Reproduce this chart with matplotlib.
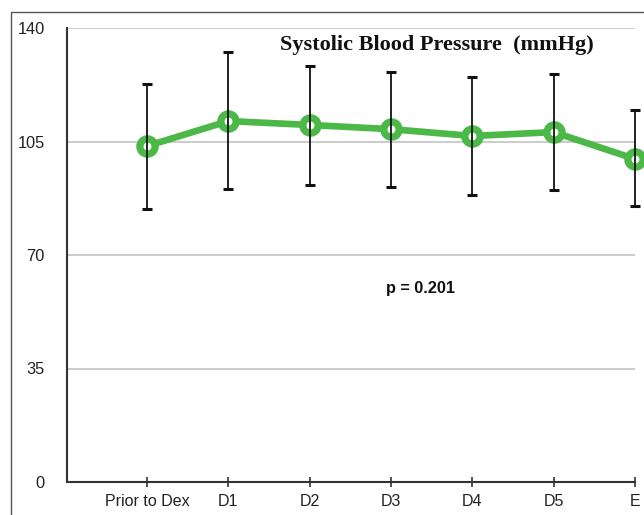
import matplotlib
matplotlib.use("Agg")
import matplotlib.pyplot as plt
from matplotlib.patches import Rectangle
import numpy as np

categories = ["Prior to Dex", "D1", "D2", "D3", "D4", "D5", "E"]
means = [103.6, 111.3, 110.1, 108.8, 106.7, 107.9, 99.6]
upper = [122.7, 132.6, 128.3, 126.4, 124.9, 125.8, 114.7]
lower = [84.2, 90.3, 91.6, 91.0, 88.5, 90.0, 85.1]
yticks = [0, 35, 70, 105, 140]
title = "Systolic Blood Pressure  (mmHg)"
annotation = "p = 0.201"

W, H = 644, 515
fig = plt.figure(figsize=(W / 100, H / 100), dpi=100)

# outer frame
fig.patches.append(Rectangle((11 / W, -0.1), 1.2, (H - 11.5) / H + 0.1,
                             transform=fig.transFigure, fill=False,
                             edgecolor="#555555", linewidth=1.0))

ax = fig.add_axes([67 / W, 1 - 482 / H, (635 - 67) / W, (482 - 28) / H])
x = np.arange(len(categories))
m = np.array(means)
err = [m - np.array(lower), np.array(upper) - m]

ax.plot(x, m, color="#4cb848", linewidth=4.8, marker="o", markersize=11,
        markerfacecolor="white", markeredgecolor="#4cb848", markeredgewidth=5.2,
        zorder=3, clip_on=False)
ax.errorbar(x, m, yerr=err, fmt="none", ecolor="#111111", elinewidth=1.3,
            capsize=3.5, capthick=2.2, zorder=4, clip_on=False)

ax.set_xlim(-0.985, 6)
ax.set_ylim(0, 140)
ax.set_yticks(yticks)
ax.set_xticks(x)
ax.set_xticklabels(categories)
ax.yaxis.grid(True, color="#c4c4c4", linewidth=1.2)
ax.set_axisbelow(True)
for s in ["top", "right"]:
    ax.spines[s].set_visible(False)
for s in ["left", "bottom"]:
    ax.spines[s].set_color("#333333")
    ax.spines[s].set_linewidth(1.5)
ax.tick_params(axis="y", length=0, pad=16, labelsize=11.8, labelcolor="#222222")
ax.tick_params(axis="x", direction="inout", length=7, width=1.2, color="#333333",
               pad=5, labelsize=11.5, labelcolor="#222222")
for lbl in ax.get_xticklabels() + ax.get_yticklabels():
    lbl.set_family("Liberation Sans")

fig.text(437 / W, 1 - 45 / H, title, ha="center", va="center",
         family="Liberation Serif", fontweight="bold", fontsize=16, color="#111111")
fig.text(420 / W, 1 - 289 / H, annotation, ha="center", va="center",
         family="Liberation Sans", fontweight="bold", fontsize=11.7, color="#111111")

fig.savefig("out.png", dpi=100)
